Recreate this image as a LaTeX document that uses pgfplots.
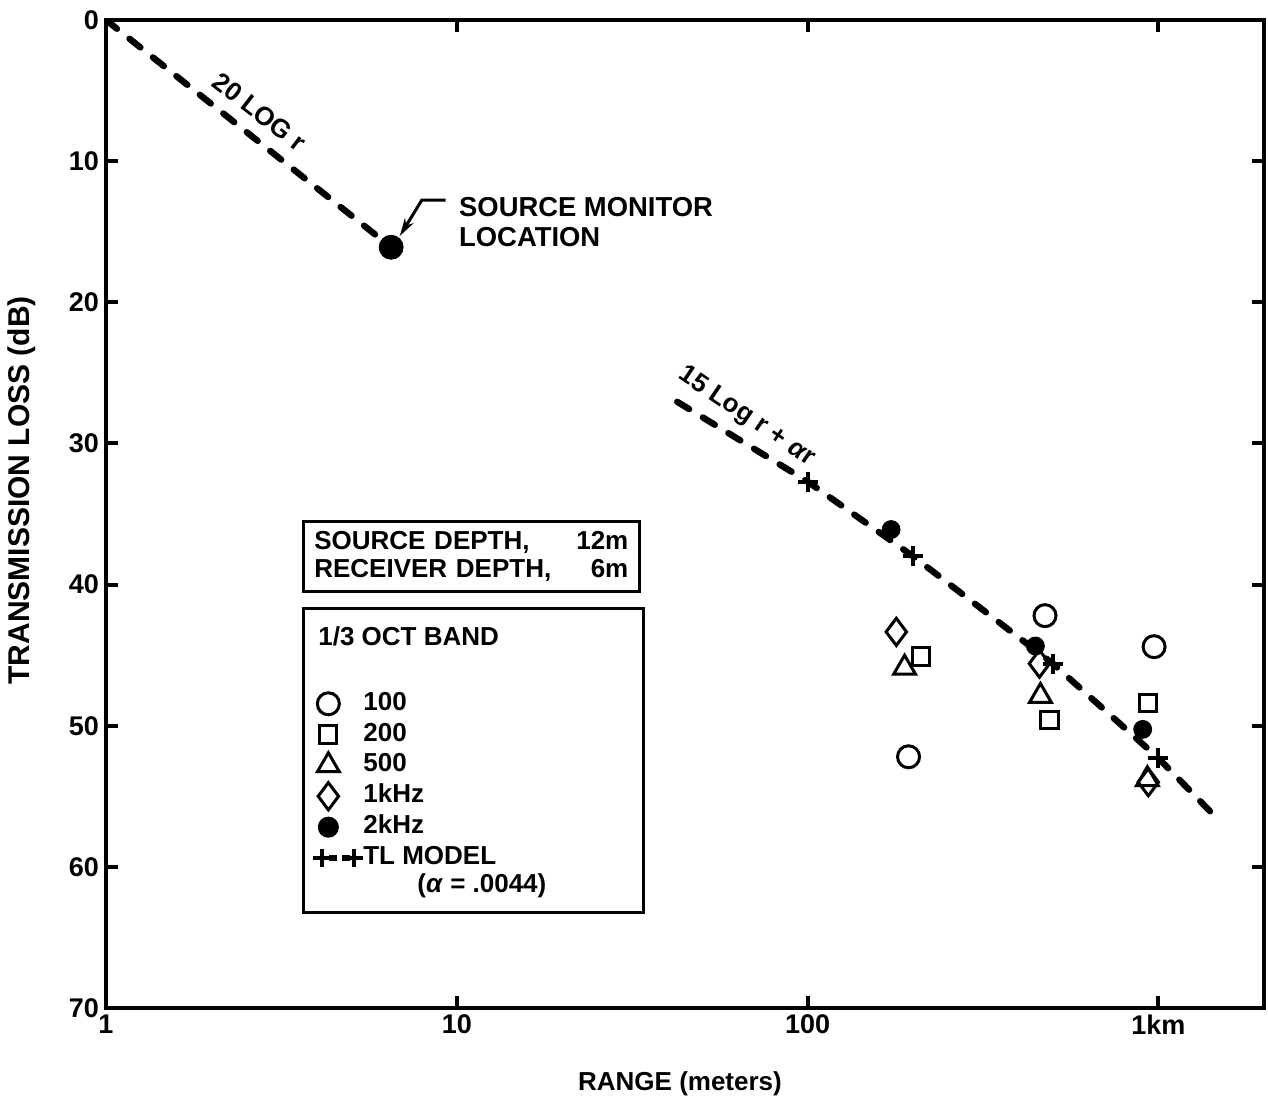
\documentclass[border=0pt]{standalone}
\usepackage{fontspec}
\setmainfont{Liberation Sans}
\usepackage{pgfplots}
\pgfplotsset{compat=1.18}
\usetikzlibrary{arrows.meta}
\newcommand{\tf}{\fontsize{13}{15.6}\selectfont\bfseries}
\pgfplotsset{
  mylegmark/.style={legend image code/.code={\draw[##1] plot coordinates {(3pt,0pt)};}},
  mylegline/.style={legend image code/.code={\draw[##1] plot coordinates {(0pt,0pt) (16pt,0pt)};}},
}
\begin{document}
\begin{tikzpicture}
\useasboundingbox (-53pt,-47pt) rectangle (581pt,504pt);
\begin{axis}[
  at={(0pt,0pt)}, anchor=south west,
  scale only axis, width=579pt, height=494pt,
  xmode=log, xmin=1, xmax=2000,
  ymin=0, ymax=70, y dir=reverse,
  xtick={1,10,100,1000}, xticklabels={1,10,100,1km},
  ytick={0,10,20,30,40,50,60,70},
  xminorticks=false,
  tick align=inside, major tick length=6pt,
  tick style={black, line width=2pt},
  axis line style={line width=2pt},
  /pgf/number format/assume math mode=true,
  ticklabel style={font=\fontsize{13.5}{16}\selectfont\bfseries},
  xlabel={RANGE (meters)},
  ylabel={TRANSMISSION LOSS (dB)},
  xlabel style={at={(axis description cs:0.4957,-0.0765)}, anchor=center, font=\tf},
  ylabel style={at={(axis description cs:-0.0725,0.524)}, anchor=center, font=\fontsize{15}{18}\selectfont\bfseries},
  legend cell align=left,
  legend style={at={(axis cs:3.617,41.6)}, anchor=north west, draw=black, line width=1.5pt, fill=white,
    inner xsep=5pt, inner ysep=6.5pt, row sep=1.9pt, column sep=0pt, font=\tf,
    nodes={inner xsep=0pt, inner ysep=0pt, text height=10pt, text depth=3.5pt}},
]
% 20 log r spreading line and source monitor
\addplot[forget plot, black, line width=3.2pt, line cap=round, dash pattern=on 7pt off 8pt] coordinates {(1,0) (6.5,16.1)};
\addplot[forget plot, only marks, mark=*, mark size=6pt, black] coordinates {(6.5,16.1)};
% TL model
\addplot[forget plot, black, line width=3.2pt, line cap=round, dash pattern=on 7pt off 8pt] coordinates {(42.5,27.05) (100,32.7) (200,38.0) (500,45.6) (1000,52.3) (1460,56.5)};
\addplot[forget plot, only marks, black, mark=+, mark size=5pt, mark options={line width=2pt}] coordinates {(100,32.7) (200,38.0) (500,45.6) (1000,52.3)};
% 100 Hz
\addplot[forget plot, only marks, black, mark=o, mark size=5.5pt, mark options={line width=1.5pt}] coordinates {(194,52.2) (475,42.2) (972,44.4)};
% 200 Hz
\addplot[forget plot, only marks, black, mark=square, mark size=4.3pt, mark options={line width=1.5pt}] coordinates {(210,45.1) (489,49.6) (932,48.4)};
% 500 Hz
\addplot[forget plot, only marks, black, mark=triangle, mark size=6.3pt, mark options={line width=1.5pt}] coordinates {(189,45.9) (461,47.9) (930,53.8)};
% 1 kHz
\addplot[forget plot, only marks, black, mark=diamond, mark size=6.8pt, mark options={line width=1.5pt}] coordinates {(179,43.35) (458,45.6) (936,54.0)};
% 2 kHz
\addplot[forget plot, only marks, black, mark=*, mark size=4.5pt] coordinates {(173,36.1) (446,44.35) (902,50.26)};

% legend
\addlegendimage{empty legend}
\addlegendentry[text height=12pt, text depth=5pt]{\hspace*{-22.5pt}\makebox[157.5pt][l]{1/3 OCT BAND}}
\addlegendimage{empty legend}
\addlegendentry{\mbox{}}
\addlegendimage{only marks, black, mark=o, mark size=5.5pt, mark options={line width=1.5pt}, mylegmark}
\addlegendentry{100}
\addlegendimage{only marks, black, mark=square, mark size=4.3pt, mark options={line width=1.5pt}, mylegmark}
\addlegendentry{200}
\addlegendimage{only marks, black, mark=triangle, mark size=6.3pt, mark options={line width=1.5pt}, mylegmark}
\addlegendentry{500}
\addlegendimage{only marks, black, mark=diamond, mark size=6.8pt, mark options={line width=1.5pt}, mylegmark}
\addlegendentry{1kHz}
\addlegendimage{only marks, black, mark=*, mark size=4.5pt, mylegmark}
\addlegendentry{2kHz}
\addlegendimage{black, line width=3pt, dash pattern=on 4pt off 2.5pt, dash phase=-3.5pt, mark=+, mark size=4.5pt, mark options={solid, line width=2pt}, mylegline}
\addlegendentry{TL MODEL}
\addlegendimage{empty legend}
\addlegendentry[text height=8.5pt]{\hspace*{27pt}(\textit{α} = .0044)}

% annotations
\node[font=\tf, rotate=-37.5, xshift=1.2pt, yshift=1.5pt] at (axis cs:2.675,6.59) {20 LOG r};
\node[font=\tf, rotate=-34, xshift=0.8pt, yshift=1.2pt] at (axis cs:65.9,28.2) {15 Log r + \textit{α}r};
\node[font=\fontsize{13.7}{16}\selectfont\bfseries, anchor=base west, inner sep=0pt] at (axis cs:10.13,13.89) {SOURCE MONITOR};
\node[font=\fontsize{13.7}{16}\selectfont\bfseries, anchor=base west, inner sep=0pt] at (axis cs:10.13,16.02) {LOCATION};
\draw[line width=1.5pt, -{Stealth[length=9pt,width=5pt]}] (axis cs:9.30,12.76) -- (axis cs:7.95,12.76) -- (axis cs:6.88,15.3);
\node[draw=black, line width=1.5pt, anchor=north west, text width=157pt, align=left, inner xsep=5.5pt, inner ysep=5pt, font=\fontsize{13}{14}\selectfont\bfseries] at (axis cs:3.617,35.44) {SOURCE DEPTH,\hfill 12m\\RECEIVER DEPTH,\hfill 6m};
\end{axis}
\end{tikzpicture}
\end{document}
